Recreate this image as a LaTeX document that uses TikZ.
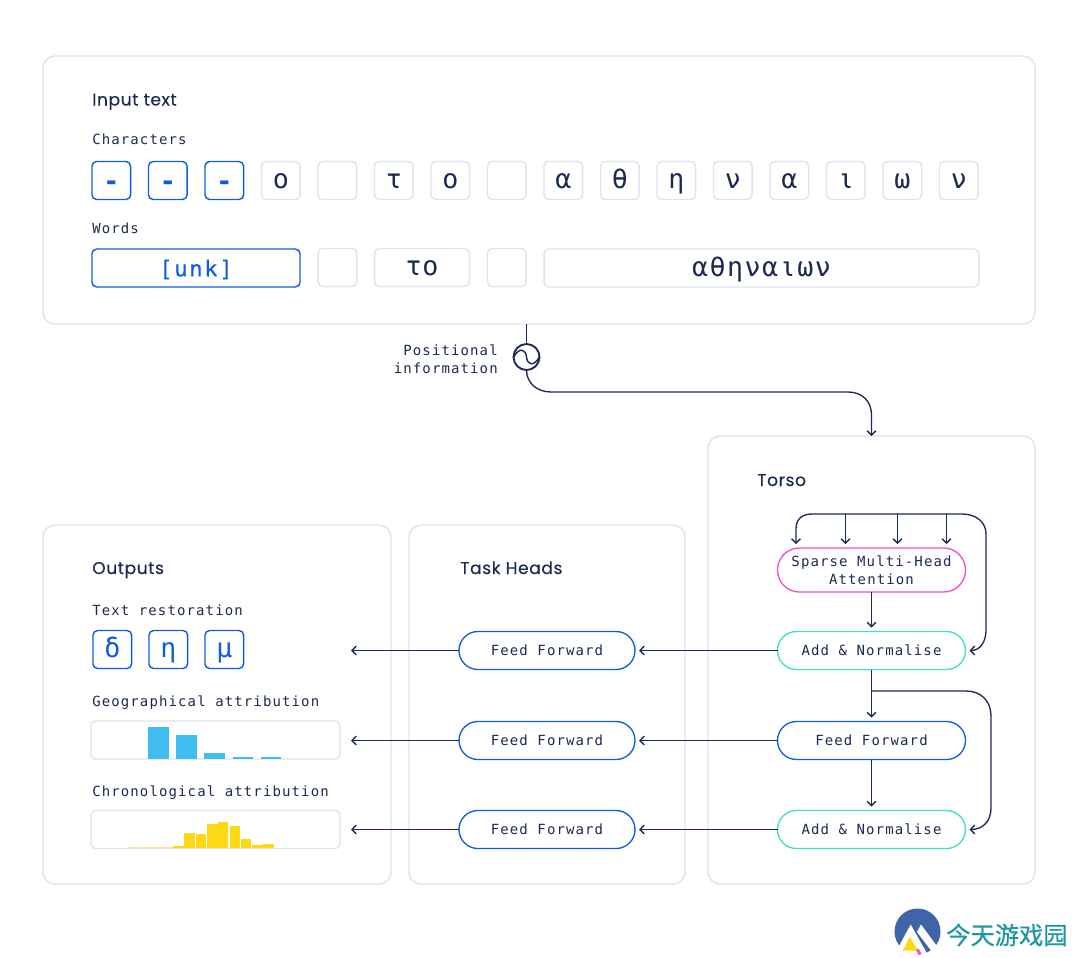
\documentclass[tikz,border=0pt]{standalone}
\usepackage{fontspec}
\usetikzlibrary{arrows.meta}
\setmainfont{Poppins}[FakeBold=0.25,LetterSpace=3.5]
\newfontfamily\monolabel[LetterSpace=8]{DejaVu Sans Mono}
\newfontfamily\monoglyph[LetterSpace=3]{DejaVu Sans Mono}
\newfontfamily\monolong[LetterSpace=5.5]{DejaVu Sans Mono}
\newfontfamily\monounk[LetterSpace=8,FakeBold=0.5]{DejaVu Sans Mono}
\newfontfamily\cjklabel[FakeBold=0.6]{Noto Sans CJK SC}
\definecolor{navy}{HTML}{1B2A52}
\definecolor{panelgray}{HTML}{DFE3EC}
\definecolor{tokenblue}{HTML}{0F5CDC}
\definecolor{attnpink}{HTML}{F050C8}
\definecolor{normteal}{HTML}{3FE0C8}
\definecolor{barblue}{HTML}{40BDF0}
\definecolor{baryellow}{HTML}{FFD814}
\definecolor{barpale}{HTML}{FBE98C}
\definecolor{logoblue}{HTML}{3F64A8}
\definecolor{logoteal}{HTML}{1F97A0}
\newcommand{\maskdash}{\raisebox{-1.5pt}{\bfseries -}}
\newcommand{\pilltext}[1]{\raisebox{-0.8pt}{#1}}
\tikzset{
  panel/.style={draw=panelgray, line width=1.1pt, rounded corners=9pt, inner sep=0pt, outer sep=0pt},
  heading/.style={text=navy, anchor=base west, inner sep=0pt, font=\fontsize{12.8}{15}\selectfont},
  sublabel/.style={text=navy, anchor=base west, inner sep=0pt, font=\monolabel\fontsize{10.5}{13.5}\selectfont},
  token/.style={draw=panelgray, line width=1.05pt, rounded corners=3.5pt, minimum height=28.5pt, text height=12.6pt, text depth=0pt, inner sep=0pt, outer sep=0pt, text=navy, font=\monoglyph\fontsize{20}{20}\selectfont},
  bluetoken/.style={token, draw=tokenblue, text=tokenblue},
  pill/.style={draw=#1, line width=1pt, rounded corners=14.2pt, minimum width=141pt, minimum height=28.5pt, inner sep=0pt, outer sep=0pt, text=navy, align=center, font=\monolabel\fontsize{10.5}{13.5}\selectfont},
  headpill/.style={pill=tokenblue, minimum width=132pt},
  link/.style={draw=navy, line width=1pt, -{Straight Barb[length=3.2pt,width=6.5pt]}},
  plainlink/.style={draw=navy, line width=1pt},
}
\begin{document}
\begin{tikzpicture}[x=0.75pt,y=-0.75pt]
  \useasboundingbox (0,0) rectangle (1080,957);

  % Panels
  \node (inputpanel) [panel, minimum width=744pt, minimum height=201pt] at (539,190) {};
  \node (torsopanel) [panel, minimum width=245.25pt, minimum height=336pt] at (871.5,660) {};
  \node (headspanel) [panel, minimum width=207pt, minimum height=269.25pt] at (547,704.5) {};
  \node (outputpanel) [panel, minimum width=261pt, minimum height=269.25pt] at (217,704.5) {};

  % Panel titles
  \node (inputtitle) [heading] at (92,105.5) {Input text};
  \node (torsotitle) [heading] at (757,486) {Torso};
  \node (headstitle) [heading] at (460,574) {Task Heads};
  \node (outputtitle) [heading] at (92,574) {Outputs};

  % Input text
  \node (charlabel) [sublabel] at (92,144) {Characters};
  \node (wordlabel) [sublabel] at (92,233) {Words};
  \foreach \i/\c/\s in {0/\maskdash/bluetoken,1/\maskdash/bluetoken,2/\maskdash/bluetoken,3/ο/token,4/{}/token,5/τ/token,6/ο/token,7/{}/token,
                        8/α/token,9/θ/token,10/η/token,11/ν/token,12/α/token,13/ι/token,14/ω/token,15/ν/token}
    \node (char\i) [\s, minimum width=29pt] at (111.3+56.5*\i,180.5) {\c};
  \node (wordunk) [bluetoken, minimum width=156pt, font=\monounk\fontsize{16.5}{20}\selectfont] at (196,268) {[unk]};
  \node (wordgapa) [token, minimum width=29pt] at (337.5,267.5) {};
  \node (wordto) [token, minimum width=71pt] at (422,267.5) {το};
  \node (wordgapb) [token, minimum width=29pt] at (506.8,267.5) {};
  \node (wordlong) [token, minimum width=326pt, font=\monolong\fontsize{20}{20}\selectfont] at (761.5,268) {αθηναιων};

  % Positional information
  \node (poslabel) [sublabel, anchor=east, align=right] at (498,359) {Positional\\information};
  \node (posmark) [circle, draw=navy, line width=1.4pt, minimum size=19.5pt, inner sep=0pt, outer sep=0pt] at (526.5,357) {};
  \coordinate (posout) at (526.5,324);
  \draw[plainlink] (posout) -- (posmark);
  \draw[navy, line width=1.1pt] (posmark.west) .. controls (520,346) and (526,350) .. (posmark.center) .. controls (527,364) and (533,368) .. (posmark.east);
  \draw[link] (posmark.south) .. controls (526.5,383) and (537,392) .. (551,392) -- (848,392) .. controls (862,392) and (871.5,401) .. (871.5,415) -- (871.5,436);

  % Torso
  \node (sparse) [pill=attnpink, minimum height=33pt, rounded corners=16.4pt] at (871.5,570) {\pilltext{Sparse Multi-Head}\\\pilltext{Attention}};
  \node (addone) [pill=normteal] at (871.5,650.5) {Add \& Normalise};
  \node (feedmain) [pill=tokenblue] at (871.5,740.5) {Feed Forward};
  \node (addtwo) [pill=normteal] at (871.5,829.5) {\pilltext{Add \& Normalise}};

  \draw[link, shorten >=3pt] (sparse) -- (addone);
  \draw[link, shorten >=3pt] (addone) -- (feedmain);
  \draw[link, shorten >=3pt] (feedmain) -- (addtwo);

  % Residual around attention
  \coordinate (tapa) at (845.5,514);
  \coordinate (tapb) at (897.5,514);
  \coordinate (tapc) at (946.5,514);
  \coordinate (loopright) at (986,534);
  \coordinate (loopleft) at (812,514);
  \draw[link, shorten >=3pt] (loopright) -- (986,630) .. controls (986,642) and (980,650.5) .. (addone.east);
  \draw[plainlink] (loopright) .. controls (986,522) and (976,514) .. (962,514) -- (loopleft);
  \draw[link] (loopleft) .. controls (802,514) and (796,519) .. (796,529) -- (796,544);
  \foreach \t in {tapa,tapb,tapc}
    \draw[link] (\t) -- ++(0,30);

  % Residual around feed forward
  \coordinate (tapd) at (871.5,691);
  \draw[link, shorten >=3pt] (tapd) -- (966,691) .. controls (981,691) and (991,701) .. (991,716) -- (991,808) .. controls (991,821) and (983,829.5) .. (addtwo.east);

  % Task heads
  \node (headone) [headpill] at (547,650.5) {\pilltext{Feed Forward}};
  \node (headtwo) [headpill] at (547,740.5) {\pilltext{Feed Forward}};
  \node (headthree) [headpill] at (547,829.5) {\pilltext{Feed Forward}};
  \coordinate (outone) at (351,650.5);
  \coordinate (outtwo) at (351,740.5);
  \coordinate (outthree) at (351,829.5);
  \draw[link, shorten >=3pt] (addone) -- (headone);
  \draw[link, shorten >=3pt] (feedmain) -- (headtwo);
  \draw[link, shorten >=3pt] (addtwo) -- (headthree);
  \draw[link] (headone) -- (outone);
  \draw[link] (headtwo) -- (outtwo);
  \draw[link] (headthree) -- (outthree);

  % Outputs
  \node (textlabel) [sublabel] at (92,615) {Text restoration};
  \node (geolabel) [sublabel] at (92,706) {Geographical attribution};
  \node (chronolabel) [sublabel] at (92,796) {Chronological attribution};
  \foreach \i/\c in {0/δ,1/η,2/μ}
    \node (restore\i) [bluetoken, minimum width=29pt] at (112.3+56*\i,649.5) {\c};
  \node (geobox) [token, minimum width=186.75pt] at (215.5,740) {};
  \node (chronobox) [token, minimum width=186.75pt] at (215.5,829.5) {};

  % Geographical bars
  \foreach \l/\t in {148/727,176.3/735.3,204.3/752.7,232.7/757,260.7/757}
    \fill[barblue] (\l,\t) rectangle (\l+20.5,758.8);

  % Chronological bars
  \foreach \l/\t in {128.3/847.3,139.7/847.3,150.7/847.3,162/847.3}
    \fill[barpale] (\l,\t) rectangle (\l+11,848.2);
  \foreach \l/\t in {173/846.3,184.3/833.3,195.7/834.3,207/824.3,217.7/822.3,229.7/826,240.7/839,252/845,263/844}
    \fill[baryellow] (\l,\t) rectangle (\l+10.6,848.2);

  % Logo mark
  \fill[logoblue] (917.5,931.5) circle (23);
  \fill[white] (893,957) -- (910.7,924.5) -- (929,957) -- cycle;
  \fill[white] (917,932) -- (921,924.5) -- (945,957) -- (936,957) -- cycle;
  \fill[baryellow] (903,950.5) -- (909.7,937) -- (918,950.5) -- cycle;
  \fill[attnpink] (916,950) -- (918.5,948.5) -- (921.5,954) -- (918.5,955) -- cycle;
  \node (logotext) [text=logoteal, anchor=west, inner sep=0pt, font=\cjklabel\fontsize{18.2}{20}\selectfont] at (946,935) {今天游戏园};
\end{tikzpicture}
\end{document}
